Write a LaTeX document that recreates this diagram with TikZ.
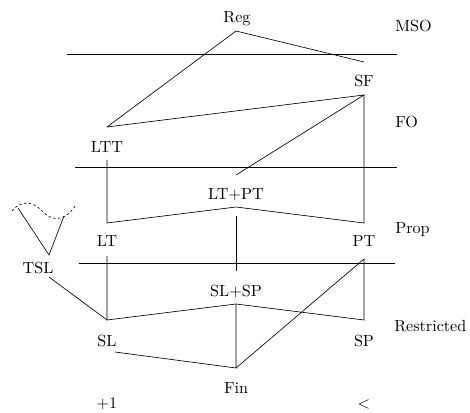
\documentclass[tikz,border=0pt]{standalone}
\begin{document}
\begin{tikzpicture}[x=0.62pt,y=-0.62pt,
  lbl/.style={inner sep=0pt, anchor=base},
  cls/.style={inner sep=0pt, anchor=base west},
  ln/.style={line width=0.4pt},
  sep/.style={line width=0.4pt}]
\useasboundingbox (0,0) rectangle (470,413);
% labels
\node[lbl] (reg) at (237,23) {Reg};
\node[lbl] (sf) at (364,87) {SF};
\node[lbl] (ltt) at (107,153) {LTT};
\node[lbl] (ltpt) at (236,200) {LT+PT};
\node[lbl] (lt) at (107,246) {LT};
\node[lbl] (pt) at (364,246) {PT};
\node[lbl] (tsl) at (38,273) {TSL};
\node[lbl] (slsp) at (236,296) {SL+SP};
\node[lbl] (sl) at (107,346) {SL};
\node[lbl] (sp) at (364,346) {SP};
\node[lbl] (fin) at (236,393) {Fin};
\node[lbl] (plus) at (107,408) {$+1$};
\node[lbl] (less) at (364,408) {$<$};
\node[cls] (mso) at (395,32) {MSO};
\node[cls] (fo) at (395,128) {FO};
\node[cls] (prop) at (395,233) {Prop};
\node[cls] (res) at (394,331) {Restricted};
% separators
\coordinate (m1) at (67,54);  \coordinate (m2) at (397,54);
\coordinate (f1) at (75,167); \coordinate (f2) at (397,167);
\coordinate (p1) at (79,263); \coordinate (p2) at (395,263);
\draw[sep] (m1) -- (m2);
\draw[sep] (f1) -- (f2);
\draw[sep] (p1) -- (p2);
% vertices
\coordinate (regB) at (236,31);
\coordinate (sfT) at (364,62);
\coordinate (sfB) at (364,95);
\coordinate (lttB) at (107,127);
\coordinate (lttT) at (107,160);
\coordinate (ltptT) at (236,175);
\coordinate (ltptB) at (236,207);
\coordinate (ltptD) at (236,216);
\coordinate (ltB) at (107,223);
\coordinate (ptB) at (364,223);
\coordinate (ltT) at (107,256);
\coordinate (ptT) at (364,259);
\coordinate (slspT) at (236,271);
\coordinate (slspB) at (236,304);
\coordinate (slB) at (107,320);
\coordinate (spB) at (364,320);
\coordinate (slT) at (115,352);
\coordinate (finB) at (236,368);
\coordinate (tslB) at (49,277);
\coordinate (tslT) at (49,255);
\coordinate (cl) at (18,208);
\coordinate (cr) at (64,216);
% connectors
\draw[ln] (lttB) -- (regB) -- (sfT);
\draw[ln] (lttB) -- (sfB) -- (ltptT);
\draw[ln] (sfB) -- (ptB) -- (ltptB) -- (ltB) -- (lttT);
\draw[ln] (ltptD) -- (slspT);
\draw[ln] (ltT) -- (slB) -- (slspB) -- (spB) -- (ptT) -- (finB);
\draw[ln] (tslB) -- (slB);
\draw[ln] (slspB) -- (finB) -- (slT);
\draw[ln] (cl) -- (tslT) -- (cr);
\draw[ln, dash pattern=on 1.5pt off 1.5pt] (12,211) .. controls (22,199) and (34,202) .. (42,211) .. controls (50,220) and (63,224) .. (76,205);
\end{tikzpicture}
\end{document}
